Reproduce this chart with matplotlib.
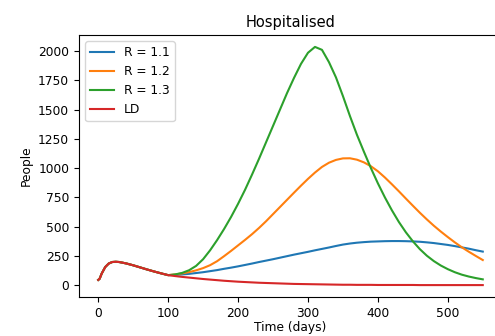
import numpy as np
import matplotlib
matplotlib.use('Agg')
import matplotlib.pyplot as plt

# shared start (all scenarios identical until day 100)
early_days = [0, 2, 5, 10, 15, 20, 25, 30, 40, 50, 60, 70, 80, 90]
early_vals = [45, 55, 100, 155, 185, 198, 200, 198, 186, 170, 152, 134, 117, 101]

late_days = list(range(100, 551, 10))

r11 = [86, 88, 92, 97, 104, 111, 120, 129, 140, 150,
       161, 173, 185, 198, 210, 222, 235, 248, 261, 273,
       285, 298, 310, 322, 335, 347, 356, 363, 368, 372,
       374, 376, 377, 377, 376, 374, 371, 366, 360, 352,
       344, 334, 323, 312, 299, 287]

r12 = [86, 92, 101, 112, 127, 146, 171, 205, 248, 293,
       340, 387, 436, 489, 546, 607, 668, 729, 790, 850,
       908, 962, 1010, 1046, 1070, 1083, 1084, 1072, 1049, 1016,
       973, 920, 862, 802, 740, 679, 619, 562, 508, 458,
       411, 366, 324, 286, 250, 215]

r13 = [86, 92, 105, 128, 165, 222, 298, 385, 480, 583,
       695, 815, 945, 1080, 1220, 1360, 1500, 1640, 1770, 1890,
       1985, 2035, 2010, 1905, 1775, 1615, 1445, 1285, 1140, 1000,
       870, 750, 640, 540, 452, 375, 308, 252, 206, 168,
       137, 111, 90, 74, 61, 50]

ld = [86, 78, 71, 65, 59, 53, 48, 43, 38, 34,
      30, 27, 24, 21, 19, 17, 15, 13, 11, 10,
      9, 8, 7, 6, 5, 4, 4, 3, 3, 3,
      2, 2, 2, 2, 2, 2, 1, 1, 1, 1,
      1, 1, 1, 1, 1, 1]

labels = ['R = 1.1', 'R = 1.2', 'R = 1.3', 'LD']

plt.rcParams['font.size'] = 8.8

days = np.array(early_days + late_days)

fig = plt.figure(figsize=(4.95, 3.36), dpi=100)
ax = fig.add_axes([79/495, 39/336, 423/495, 262/336])

for series, lab in zip([r11, r12, r13, ld], labels):
    ax.plot(days, early_vals + series, label=lab, linewidth=1.5)

ax.set_title('Hospitalised')
ax.set_xlabel('Time (days)', labelpad=1)
ax.set_ylabel('People')
ax.set_xticks([0, 100, 200, 300, 400, 500])
ax.set_yticks(range(0, 2001, 250))
ax.legend(loc='upper left')

fig.savefig('out.png', dpi=100)
